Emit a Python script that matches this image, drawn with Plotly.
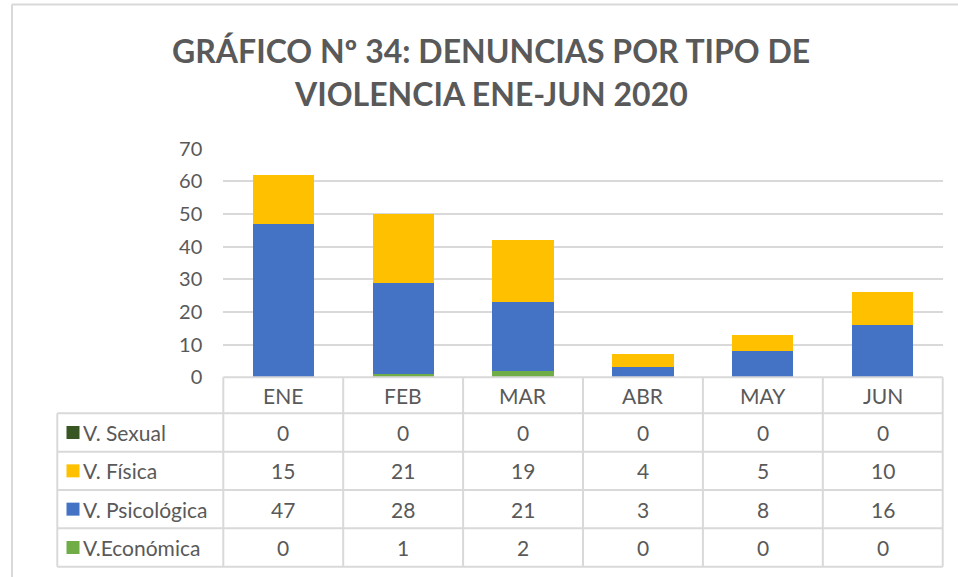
import plotly.graph_objects as go

# ---------------- data ----------------
months = ["ENE", "FEB", "MAR", "ABR", "MAY", "JUN"]
v_sexual = [0, 0, 0, 0, 0, 0]
v_fisica = [15, 21, 19, 4, 5, 10]
v_psicologica = [47, 28, 21, 3, 8, 16]
v_economica = [0, 1, 2, 0, 0, 0]
series_names = ["V. Sexual", "V. Física", "V. Psicológica", "V.Económica"]
series_colors = ["#375623", "#FFC000", "#4472C4", "#70AD47"]
y_ticks = [0, 10, 20, 30, 40, 50, 60, 70]
title_lines = ["GRÁFICO Nº 34: DENUNCIAS POR TIPO DE", "VIOLENCIA ENE-JUN 2020"]

series_values = [v_sexual, v_fisica, v_psicologica, v_economica]

# ---------------- layout helpers ----------------
W, H = 958, 577
def px(x):
    return x / W
def py(y):
    return 1 - y / H

FONT = "Lato, 'Open Sans', sans-serif"
GRAY = "#595959"
LINE = "#D9D9D9"

plot_left, plot_right = 223.3, 942.7
plot_top, plot_bottom = 148.5, 377.3
col_w = (plot_right - plot_left) / len(months)
table_left = 57.3
row_edges = [377.3, 413.3, 451.7, 490.0, 528.3, 566.7]

fig = go.Figure()

# stack bottom -> top : Económica, Psicológica, Física, Sexual
for idx in [3, 2, 1, 0]:
    fig.add_trace(go.Bar(
        x=months, y=series_values[idx], name=series_names[idx],
        marker=dict(color=series_colors[idx], line=dict(width=0)),
        showlegend=False, hoverinfo="x+y+name",
    ))

shapes = []
annotations = []

# outer chart border (left and top edges visible)
shapes.append(dict(type="line", xref="paper", yref="paper",
                   x0=px(12), x1=px(W + 2), y0=py(4.5), y1=py(4.5),
                   line=dict(color=LINE, width=2)))
shapes.append(dict(type="line", xref="paper", yref="paper",
                   x0=px(12), x1=px(12), y0=py(4.5), y1=py(H + 2),
                   line=dict(color=LINE, width=2)))

# table horizontal lines
shapes.append(dict(type="line", xref="paper", yref="paper",
                   x0=px(plot_left), x1=px(plot_right), y0=py(row_edges[0]), y1=py(row_edges[0]),
                   line=dict(color=LINE, width=2)))
for ye in row_edges[1:]:
    shapes.append(dict(type="line", xref="paper", yref="paper",
                       x0=px(table_left), x1=px(plot_right), y0=py(ye), y1=py(ye),
                       line=dict(color=LINE, width=2)))
# table vertical lines
shapes.append(dict(type="line", xref="paper", yref="paper",
                   x0=px(table_left), x1=px(table_left), y0=py(row_edges[1]), y1=py(row_edges[-1]),
                   line=dict(color=LINE, width=2)))
for k in range(len(months) + 1):
    xe = plot_left + k * col_w
    shapes.append(dict(type="line", xref="paper", yref="paper",
                       x0=px(xe), x1=px(xe), y0=py(row_edges[0]), y1=py(row_edges[-1]),
                       line=dict(color=LINE, width=2)))

TSIZE = 21
# month header labels
for k, m in enumerate(months):
    annotations.append(dict(text=m, xref="paper", yref="paper",
                            x=px(plot_left + (k + 0.5) * col_w),
                            y=py((row_edges[0] + row_edges[1]) / 2),
                            showarrow=False, xanchor="center", yanchor="middle",
                            font=dict(family=FONT, size=TSIZE, color=GRAY)))

# rows: legend key, name, values
for r, (name, color, vals) in enumerate(zip(series_names, series_colors, series_values)):
    yc = (row_edges[r + 1] + row_edges[r + 2]) / 2
    shapes.append(dict(type="rect", xref="paper", yref="paper",
                       x0=px(66.5), x1=px(79.5), y0=py(yc - 6.5), y1=py(yc + 6.5),
                       line=dict(width=0), fillcolor=color))
    annotations.append(dict(text=name, xref="paper", yref="paper",
                            x=px(81), y=py(yc), showarrow=False,
                            xanchor="left", yanchor="middle",
                            font=dict(family=FONT, size=TSIZE, color=GRAY)))
    for k, v in enumerate(vals):
        annotations.append(dict(text=str(v), xref="paper", yref="paper",
                                x=px(plot_left + (k + 0.5) * col_w), y=py(yc),
                                showarrow=False, xanchor="center", yanchor="middle",
                                font=dict(family=FONT, size=TSIZE, color=GRAY)))

# title
for i, (t, yc) in enumerate(zip(title_lines, [50, 94])):
    annotations.append(dict(text="<b>" + t + "</b>", xref="paper", yref="paper",
                            x=px(491), y=py(yc), showarrow=False,
                            xanchor="center", yanchor="middle",
                            font=dict(family=FONT, size=32, color=GRAY)))

fig.update_layout(
    width=W, height=H, autosize=False,
    margin=dict(l=0, r=0, t=0, b=0, pad=0, autoexpand=False),
    paper_bgcolor="white", plot_bgcolor="white",
    barmode="stack", bargap=0.49,
    showlegend=False,
    xaxis=dict(domain=[px(plot_left), px(plot_right)], range=[-0.5, 5.5],
               showticklabels=False, showgrid=False, zeroline=False, showline=False,
               ticks="", automargin=False, title=dict(text="")),
    yaxis=dict(domain=[py(plot_bottom), py(plot_top)], range=[0, 70],
               tickvals=y_ticks, showgrid=True, gridcolor=LINE, gridwidth=1.5,
               zeroline=False, showline=False, ticks="",
               ticklabelstandoff=20, automargin=False, title=dict(text=""),
               tickfont=dict(family=FONT, size=20, color=GRAY)),
    shapes=shapes, annotations=annotations,
    font=dict(family=FONT, color=GRAY),
)

fig.write_html(
    "out.html",
    config={"displayModeBar": False, "responsive": False},
    post_script="document.body.style.margin='0';document.body.style.overflow='hidden';",
)
